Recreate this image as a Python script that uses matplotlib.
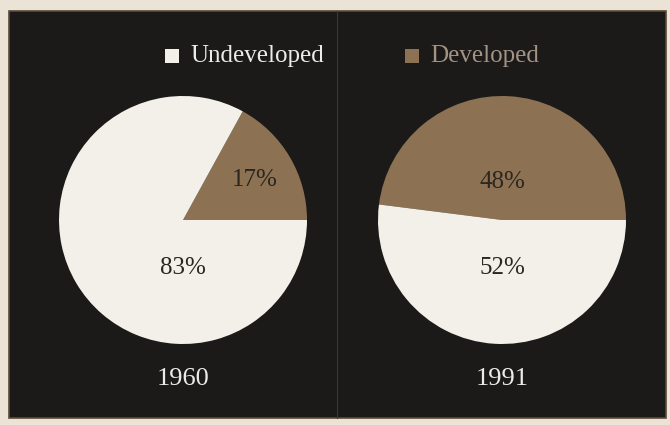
import matplotlib
matplotlib.use("Agg")
import matplotlib.pyplot as plt
from matplotlib.patches import Rectangle

categories = ["Undeveloped", "Developed"]
years = ["1960", "1991"]
shares = {
    "1960": [83, 17],
    "1991": [52, 48],
}

W, H = 670, 425
DPI = 100
colors = {"Undeveloped": "#f2f0e9", "Developed": "#8c7253"}
legend_text_colors = {"Undeveloped": "#ecebe6", "Developed": "#a39383"}
panel_color = "#1b1a19"

plt.rcParams["font.family"] = ["Liberation Serif", "DejaVu Serif"]

fig = plt.figure(figsize=(W / DPI, H / DPI), dpi=DPI, facecolor="#ebe4d6")


def px(x, y):
    """Pixel position (from top-left) to figure fraction."""
    return x / W, 1 - y / H


# dark panel with a thin brown rim
x0, y0 = px(9, 418)
x1, y1 = px(666, 11)
fig.patches.append(Rectangle((x0, y0), x1 - x0, y1 - y0, transform=fig.transFigure,
                             facecolor=panel_color, edgecolor="#5c4a35", linewidth=1.2,
                             zorder=-2))
# faint fold line down the middle
fx, _ = px(337, 0)
fig.add_artist(plt.Line2D([fx, fx], [y0, y1], transform=fig.transFigure,
                          color="#3a3836", linewidth=0.8, zorder=-1))

# legend
legend_pos = {"Undeveloped": (165, 56), "Developed": (405, 56)}
sq = 14
for cat in categories:
    lx, ly = legend_pos[cat]
    rx, ry = px(lx, ly + sq / 2)
    fig.patches.append(Rectangle((rx, ry), sq / W, sq / H, transform=fig.transFigure,
                                 facecolor=colors[cat], edgecolor="none", zorder=2))
    tx, ty = px(lx + sq + 11, ly)
    fig.text(tx, ty, cat, color=legend_text_colors[cat], fontsize=18,
             ha="left", va="center", zorder=3)

# pies
centers = {"1960": (183, 220), "1991": (502, 220)}
R = 124
for yr in years:
    cx, cy = centers[yr]
    left, bottom = px(cx - R, cy + R)
    ax = fig.add_axes([left, bottom, 2 * R / W, 2 * R / H])
    vals = shares[yr]
    # developed slice first, starting at 3 o'clock, counterclockwise
    order = [1, 0]
    wedges, _ = ax.pie([vals[i] for i in order],
                       colors=[colors[categories[i]] for i in order],
                       startangle=0, counterclock=True, radius=1,
                       wedgeprops=dict(linewidth=0))
    ax.set_xlim(-1, 1)
    ax.set_ylim(-1, 1)
    ax.set_aspect("equal")
    ax.axis("off")
    # value labels
    if yr == "1960":
        dev_xy = (0.58, 0.32)
        und_xy = (0.0, -0.39)
    else:
        dev_xy = (0.0, 0.31)
        und_xy = (0.0, -0.39)
    ax.text(*dev_xy, f"{vals[1]}%", ha="center", va="center", fontsize=18, color="#2b2620")
    ax.text(*und_xy, f"{vals[0]}%", ha="center", va="center", fontsize=18, color="#2b2620")
    # year label
    tx, ty = px(cx, 379)
    fig.text(tx, ty, yr, ha="center", va="center", fontsize=19, color="#ecebe6")

fig.savefig("out.png", dpi=DPI, facecolor=fig.get_facecolor())
